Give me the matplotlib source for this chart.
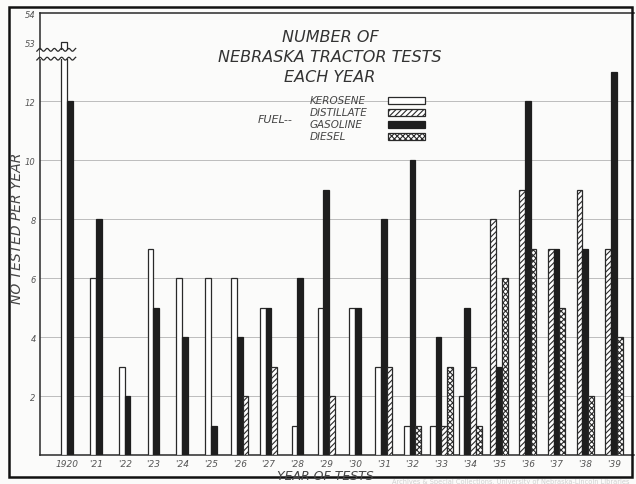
import matplotlib
matplotlib.use("Agg")
import matplotlib.pyplot as plt
import numpy as np

years = ["1920", "'21", "'22", "'23", "'24", "'25", "'26", "'27", "'28", "'29",
         "'30", "'31", "'32", "'33", "'34", "'35", "'36", "'37", "'38", "'39"]
kerosene   = [53, 6, 3, 7, 6, 6, 6, 5, 1, 5, 5, 3, 1, 1, 2, 0, 0, 0, 0, 0]
distillate = [0, 0, 0, 0, 0, 0, 2, 3, 0, 2, 0, 3, 0, 1, 3, 8, 9, 7, 9, 7]
gasoline   = [12, 8, 2, 5, 4, 1, 4, 5, 6, 9, 5, 8, 10, 4, 5, 3, 12, 7, 7, 13]
diesel     = [0, 0, 0, 0, 0, 0, 0, 0, 0, 0, 0, 0, 1, 3, 1, 6, 7, 5, 2, 4]
ytick_values = [2, 4, 6, 8, 10, 12, 53, 54]

BREAK_LOW, BREAK_SHIFT = 13.5, 39
def disp(v):
    return v - BREAK_SHIFT if v > BREAK_LOW else v

plt.rcParams['font.family'] = ['DejaVu Sans']
plt.rcParams['hatch.linewidth'] = 0.8
fig = plt.figure(figsize=(6.36, 4.85), dpi=100)
fig.patch.set_facecolor('#fbfbfa')
W, H = 636, 485
ax = fig.add_axes([40 / W, (H - 456) / H, (634 - 40) / W, (456 - 14) / H])
ax.set_facecolor('#fbfbfa')

ink = '#2a2a2a'
styles = {
    'K': dict(facecolor='white', edgecolor=ink, hatch=None),
    'D': dict(facecolor='white', edgecolor=ink, hatch='//////'),
    'G': dict(facecolor='#1e1e1e', edgecolor='#1e1e1e', hatch=None),
    'S': dict(facecolor='white', edgecolor=ink, hatch='xxxxxx'),
}
series = {'K': kerosene, 'D': distillate, 'G': gasoline, 'S': diesel}
bw = 0.2
for i in range(len(years)):
    order = ['K', 'G', 'D', 'S'] if i < 15 else ['K', 'D', 'G', 'S']
    present = [k for k in order if series[k][i] > 0]
    n = len(present)
    for j, k in enumerate(present):
        x = i + (j - (n - 1) / 2) * bw
        v = series[k][i]
        st = styles[k]
        ax.bar(x, disp(v), width=bw, facecolor=st['facecolor'], edgecolor=st['edgecolor'],
               hatch=st['hatch'], linewidth=0.9, zorder=3)

# grid lines
for t in [2, 4, 6, 8, 10, 12]:
    ax.axhline(t, color='#bdbdbd', lw=0.7, zorder=1)

ax.set_xlim(-0.94, 19.69)
ax.set_ylim(0, 15)
ax.set_xticks(range(len(years)))
ax.set_xticklabels(years, fontsize=6.5, style='italic', color='#555555')
ax.set_yticks([disp(v) for v in ytick_values])
ax.set_yticklabels([str(v) for v in ytick_values], fontsize=6, style='italic', color='#555555')
ax.tick_params(length=0, pad=3)
for s in ['left', 'bottom', 'top']:
    ax.spines[s].set_color(ink)
    ax.spines[s].set_linewidth(1.1)
ax.spines['right'].set_visible(False)

# axis break
ax.axhspan(13.45, 13.75, xmin=0, xmax=0.06, facecolor='#fbfbfa', edgecolor='none', zorder=4, clip_on=False)
xx = np.linspace(-1.05, 0.3, 40)
for y0 in (13.45, 13.75):
    ax.plot(xx, y0 + 0.05 * np.sin(xx * 25), color=ink, lw=0.9, zorder=5, clip_on=False)

# titles
tstyle = dict(ha='center', va='center', style='italic', color='#333333', fontsize=11.5)
fig.text(330 / W, 1 - 38 / H, 'NUMBER OF', **tstyle)
fig.text(330 / W, 1 - 58 / H, 'NEBRASKA TRACTOR TESTS', **tstyle)
fig.text(330 / W, 1 - 78 / H, 'EACH YEAR', **tstyle)

# legend
lx = 310
names = ['KEROSENE', 'DISTILLATE', 'GASOLINE', 'DIESEL']
keys = ['K', 'D', 'G', 'S']
for r, (nm, k) in enumerate(zip(names, keys)):
    y = 101 + r * 12
    fig.text(lx / W, 1 - y / H, nm, ha='left', va='center', style='italic',
             fontsize=7.5, color='#444444')
    st = styles[k]
    rect = plt.Rectangle((388 / W, 1 - (y + 3.5) / H), 37 / W, 7 / H, transform=fig.transFigure,
                         facecolor=st['facecolor'], edgecolor=st['edgecolor'], hatch=st['hatch'],
                         linewidth=0.9)
    fig.patches.append(rect)
fig.text(258 / W, 1 - 120 / H, 'FUEL--', ha='left', va='center', style='italic',
         fontsize=8, color='#444444')

# axis labels
fig.text(17 / W, 1 - 228 / H, 'NO TESTED PER YEAR', rotation=90, ha='center', va='center',
         style='italic', fontsize=10, color='#444444')
fig.text(325 / W, 1 - 477 / H, 'YEAR OF TESTS', ha='center', va='center',
         style='italic', fontsize=9, color='#444444')
fig.text(629 / W, 1 - 482 / H, 'Archives & Special Collections, University of Nebraska-Lincoln Libraries',
         ha='right', va='center', fontsize=4.8, color='#cfcfcf')

# frame of scanned page
frame = plt.Rectangle((9 / W, 1 - 478 / H), (632 - 9) / W, (478 - 8) / H, transform=fig.transFigure,
                      facecolor='none', edgecolor='#111111', linewidth=1.8)
fig.patches.append(frame)

fig.savefig('out.png', dpi=100, facecolor=fig.get_facecolor())
